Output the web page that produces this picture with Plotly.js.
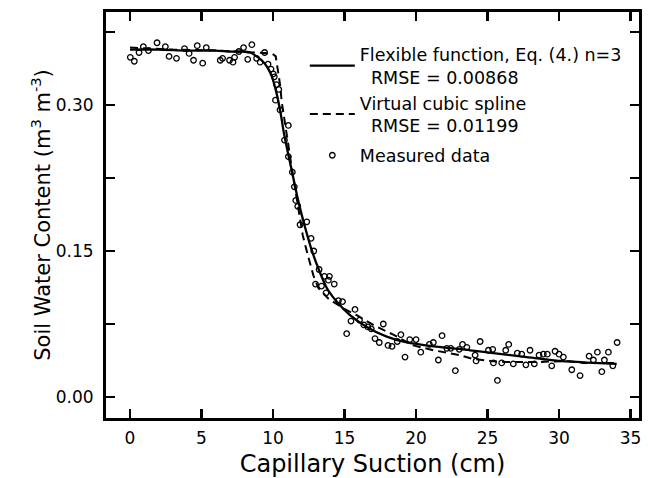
<!DOCTYPE html>
<html>
<head>
<meta charset="utf-8">
<script src="https://cdn.plot.ly/plotly-3.0.1.min.js"></script>
<style>html,body{margin:0;padding:0;background:#fff}#chart{width:650px;height:478px}</style>
</head>
<body>
<div id="chart"></div>
<script>
// Measured data
var measX = [0.02,0.30,0.63,0.93,1.29,1.89,2.47,2.73,3.25,3.81,4.13,4.44,4.70,5.08,5.33,6.31,6.47,6.96,7.20,7.31,7.61,7.94,8.23,8.52,8.85,9.10,9.41,9.65,9.86,10.02,10.09,10.24,10.40,10.17,10.49,11.07,10.80,11.07,11.35,11.49,11.59,11.73,11.89,12.36,12.66,12.85,13.22,13.60,13.94,13.87,14.28,12.97,13.39,13.71,14.57,14.86,15.73,15.15,15.45,16.05,16.35,16.63,16.87,17.71,17.13,17.43,18.04,18.32,18.69,18.94,19.23,19.56,20.00,20.33,20.93,21.21,21.56,21.82,22.15,22.43,22.75,23.02,23.25,23.55,24.13,24.20,24.48,25.06,25.36,25.41,25.69,25.99,26.27,26.48,26.80,27.08,27.39,27.68,27.97,28.27,28.60,28.90,29.18,29.49,29.72,30.00,30.30,30.89,31.47,32.10,32.40,32.68,32.99,33.17,33.45,33.76,34.06];
var measY = [0.349,0.345,0.354,0.360,0.356,0.364,0.360,0.350,0.348,0.358,0.353,0.346,0.361,0.343,0.359,0.346,0.348,0.346,0.344,0.349,0.355,0.359,0.347,0.362,0.348,0.344,0.354,0.342,0.337,0.332,0.329,0.321,0.316,0.305,0.295,0.279,0.264,0.247,0.231,0.216,0.202,0.196,0.177,0.180,0.163,0.150,0.131,0.124,0.124,0.120,0.116,0.116,0.114,0.107,0.099,0.098,0.090,0.065,0.078,0.079,0.074,0.072,0.070,0.075,0.060,0.056,0.053,0.052,0.057,0.064,0.041,0.059,0.059,0.046,0.054,0.056,0.038,0.063,0.050,0.050,0.027,0.049,0.054,0.051,0.043,0.037,0.057,0.048,0.049,0.035,0.017,0.035,0.048,0.054,0.034,0.045,0.044,0.033,0.048,0.034,0.043,0.044,0.044,0.032,0.047,0.044,0.041,0.028,0.022,0.042,0.038,0.046,0.026,0.038,0.046,0.032,0.056];

// Flexible function, Eq. (4.) n=3
var flexX = [0,2,4,6,7,7.8,8.4,8.75,9.2,9.55,9.9,10.25,10.55,10.75,11.07,11.42,11.77,12.19,12.66,13.17,13.76,14.45,15.38,16.55,17.95,19.35,21.21,23.78,25.41,27.74,30.07,32.4,34.03];
var flexY = [0.357,0.357,0.356,0.356,0.355,0.355,0.354,0.351,0.346,0.340,0.330,0.312,0.290,0.272,0.249,0.225,0.201,0.177,0.153,0.132,0.112,0.098,0.084,0.072,0.062,0.056,0.052,0.048,0.045,0.041,0.037,0.035,0.034];

// Virtual cubic spline
var splX = [0,3,6,9.3,9.93,10.19,10.33,10.49,10.61,10.84,11.07,11.31,11.54,11.77,12.08,12.43,12.82,13.17,13.87,14.92,15.85,17.01,18.41,19.81,21.21,23.08,24.0,25.2,26.3,28.7,30.5,31.7,34.03];
var splY = [0.359,0.357,0.356,0.354,0.353,0.350,0.338,0.321,0.303,0.283,0.259,0.235,0.214,0.190,0.166,0.146,0.125,0.112,0.101,0.091,0.084,0.074,0.064,0.053,0.048,0.043,0.039,0.037,0.036,0.036,0.037,0.035,0.035];

var xTicks = [0,5,10,15,20,25,30,35];
var yTickVals = [0,0.075,0.15,0.225,0.30,0.375];
var yTickText = ['0.00','','0.15','','0.30',''];

var nb = '\u00a0\u00a0';
var traces = [
  {x: flexX, y: flexY, type: 'scatter', mode: 'lines', legendgroup: 'fits',
   line: {color: '#000', width: 2.3, shape: 'spline', smoothing: 0.6},
   name: 'Flexible function, Eq. (4.) n=3<br>' + nb + 'RMSE = 0.00868'},
  {x: splX, y: splY, type: 'scatter', mode: 'lines', legendgroup: 'fits',
   line: {color: '#000', width: 2, dash: '8px,5px'},
   name: 'Virtual cubic spline<br>' + nb + 'RMSE = 0.01199'},
  {x: measX, y: measY, type: 'scatter', mode: 'markers', legendgroup: 'data',
   marker: {symbol: 'circle-open', size: 5.5, color: '#000', line: {width: 1.3, color: '#000'}},
   name: 'Measured data'}
];

var font = 'DejaVu Sans, Verdana, sans-serif';
var layout = {
  width: 650, height: 478,
  margin: {l: 106, r: 11, t: 12, b: 60},
  paper_bgcolor: '#fff', plot_bgcolor: '#fff',
  font: {family: font, color: '#000', size: 17},
  showlegend: true,
  legend: {x: 0.373, y: 0.94, xanchor: 'left', yanchor: 'top', bgcolor: 'rgba(0,0,0,0)',
           font: {family: font, size: 17.5, color: '#000'}, valign: 'middle',
           tracegroupgap: 4, itemwidth: 45},
  xaxis: {
    range: [-1.68, 35.59], tickvals: xTicks, ticktext: xTicks.map(String),
    ticks: 'inside', ticklen: 9, tickwidth: 2.5, tickcolor: '#000',
    showline: true, linewidth: 3, linecolor: '#000', mirror: 'ticks',
    showgrid: false, zeroline: false, ticklabelstandoff: 3,
    tickfont: {family: font, size: 17, color: '#000'},
    title: {text: 'Capillary Suction (cm)', font: {family: font, size: 24, color: '#000'}, standoff: 12}
  },
  yaxis: {
    range: [-0.0216, 0.3956], tickvals: yTickVals, ticktext: yTickText,
    ticks: 'inside', ticklen: 9, tickwidth: 2.5, tickcolor: '#000',
    showline: true, linewidth: 3, linecolor: '#000', mirror: 'ticks',
    showgrid: false, zeroline: false, ticklabelstandoff: 6,
    tickfont: {family: font, size: 17, color: '#000'},
    title: {text: 'Soil Water Content (m<sup>3</sup> m<sup>-3</sup>)', font: {family: font, size: 21, color: '#000'}, standoff: 0}
  }
};

Plotly.newPlot('chart', traces, layout, {displayModeBar: false, staticPlot: true});
</script>
</body>
</html>
